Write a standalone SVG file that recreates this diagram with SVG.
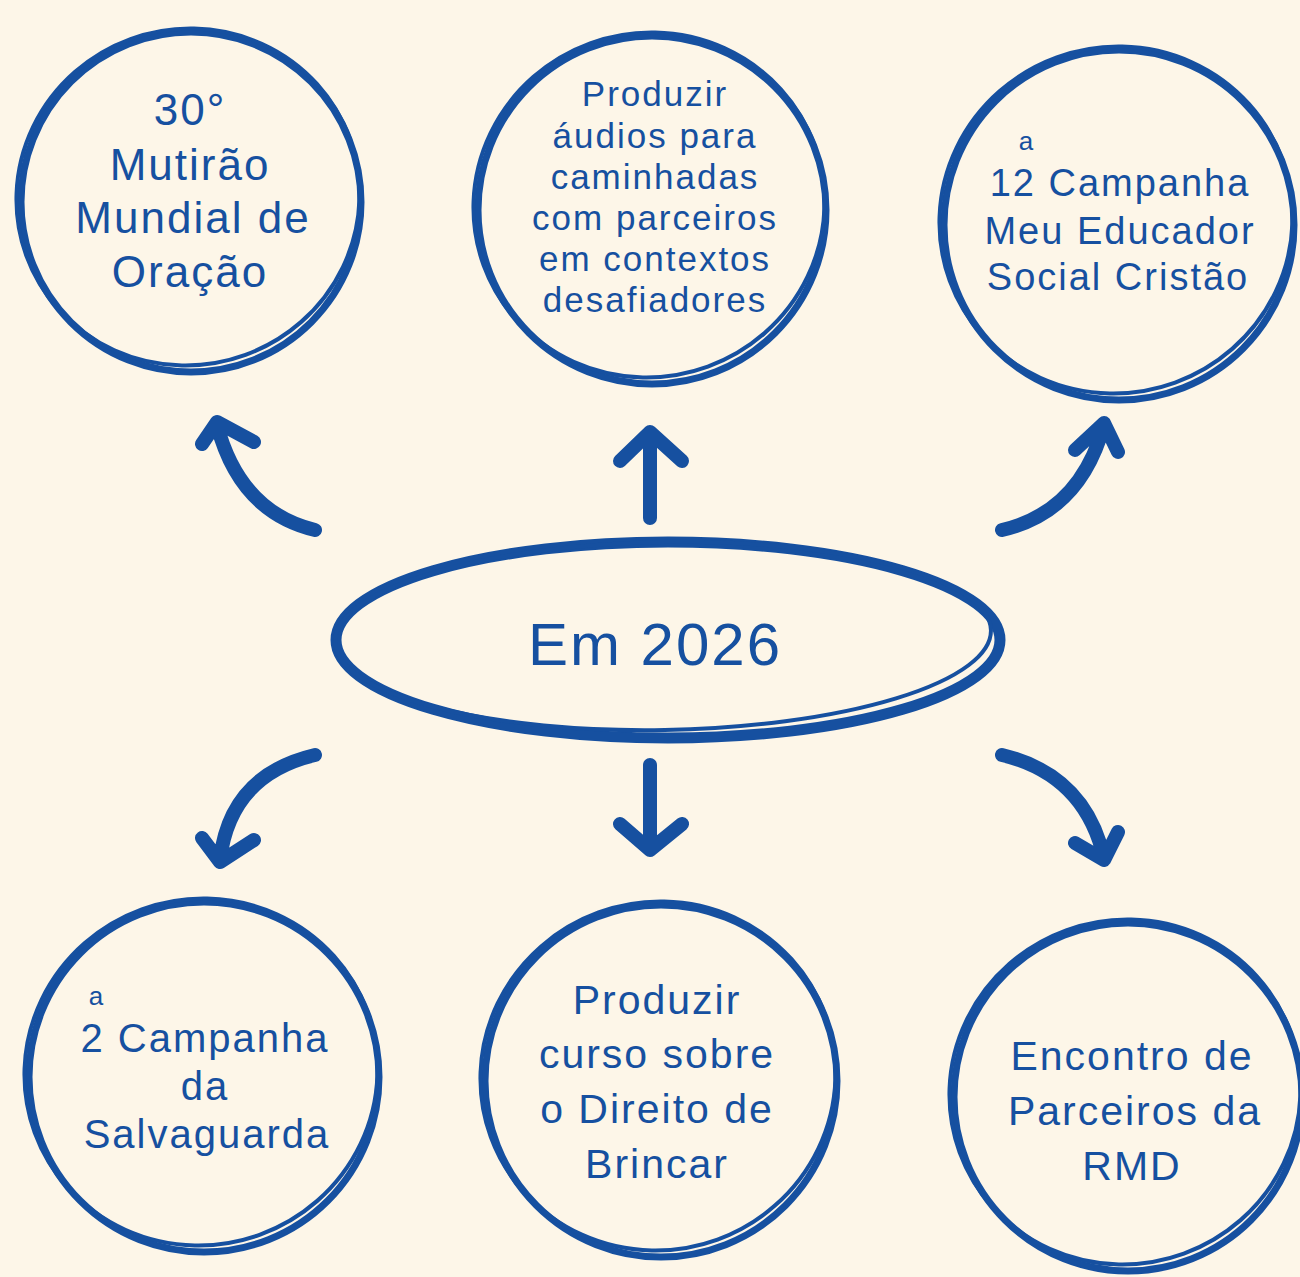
<svg xmlns="http://www.w3.org/2000/svg" width="1300" height="1277" viewBox="0 0 1300 1277">
<style>
.r1{fill:none;stroke:#1650a0;stroke-width:7}
.r2{fill:none;stroke:#1650a0;stroke-width:4}
.t{font-family:"Liberation Sans",Arial,sans-serif;fill:#1650a0;text-anchor:middle;letter-spacing:2px}
.c{fill:none;stroke:#1650a0;stroke-width:14;stroke-linecap:round;stroke-linejoin:round}
</style>
<rect width="1300" height="1277" fill="#fdf6e8"/>
<g id="center">
<ellipse cx="668" cy="640" rx="332" ry="98" fill="none" stroke="#1650a0" stroke-width="11"/>
<ellipse cx="663" cy="636" rx="328" ry="94" transform="rotate(-1 663 636)" fill="none" stroke="#1650a0" stroke-width="4"/>
<text class="t" x="655" y="665" font-size="60">Em 2026</text>
</g>
<g id="n1">
<circle class="r1" cx="191" cy="202" r="170"/>
<ellipse class="r2" cx="188" cy="197" rx="172" ry="168" transform="rotate(-20 188 197)"/>
<text class="t" font-size="44"><tspan x="190" y="125">30°</tspan><tspan x="190" y="180">Mutirão</tspan><tspan x="193" y="233">Mundial de</tspan><tspan x="190" y="287">Oração</tspan></text>
</g>
<g id="n2">
<circle class="r1" cx="652" cy="210" r="174"/>
<ellipse class="r2" cx="649" cy="205" rx="176" ry="172" transform="rotate(-20 649 205)"/>
<text class="t" font-size="35"><tspan x="655" y="106">Produzir</tspan><tspan x="655" y="148">áudios para</tspan><tspan x="655" y="189">caminhadas</tspan><tspan x="655" y="230">com parceiros</tspan><tspan x="655" y="271">em contextos</tspan><tspan x="655" y="312">desafiadores</tspan></text>
</g>
<g id="n3">
<circle class="r1" cx="1119" cy="225" r="175"/>
<ellipse class="r2" cx="1116" cy="220" rx="177" ry="173" transform="rotate(-20 1116 220)"/>
<text class="t" x="1027" y="150" font-size="26">a</text>
<text class="t" font-size="38"><tspan x="1120" y="196">12  Campanha</tspan><tspan x="1120" y="244">Meu Educador</tspan><tspan x="1118" y="290">Social Cristão</tspan></text>
</g>
<g id="n4">
<circle class="r1" cx="204" cy="1077" r="175"/>
<ellipse class="r2" cx="201" cy="1072" rx="177" ry="173" transform="rotate(-20 201 1072)"/>
<text class="t" x="97" y="1005" font-size="26">a</text>
<text class="t" font-size="40"><tspan x="205" y="1052">2  Campanha</tspan><tspan x="205" y="1100">da</tspan><tspan x="207" y="1148">Salvaguarda</tspan></text>
</g>
<g id="n5">
<circle class="r1" cx="661" cy="1081" r="176"/>
<ellipse class="r2" cx="658" cy="1076" rx="178" ry="174" transform="rotate(-20 658 1076)"/>
<text class="t" font-size="41"><tspan x="657" y="1014">Produzir</tspan><tspan x="657" y="1068">curso sobre</tspan><tspan x="657" y="1123">o Direito de</tspan><tspan x="657" y="1178">Brincar</tspan></text>
</g>
<g id="n6">
<circle class="r1" cx="1128" cy="1097" r="174"/>
<ellipse class="r2" cx="1125" cy="1092" rx="176" ry="172" transform="rotate(-20 1125 1092)"/>
<text class="t" font-size="41"><tspan x="1132" y="1070">Encontro de</tspan><tspan x="1135" y="1125">Parceiros da</tspan><tspan x="1132" y="1180">RMD</tspan></text>
</g>
<g id="connectors">
<path class="c" d="M315 530 Q240 512 217 425 M202 444 L217 422 L254 442"/>
<path class="c" d="M650 518 L650 432 M620 461 L650 432 L682 461"/>
<path class="c" d="M1002 530 Q1080 512 1104 425 M1075 450 L1104 423 L1118 452"/>
<path class="c" d="M315 755 Q230 775 220 860 M202 838 L220 862 L254 840"/>
<path class="c" d="M650 765 L650 850 M620 824 L650 850 L682 824"/>
<path class="c" d="M1002 755 Q1085 775 1104 858 M1075 843 L1104 860 L1118 832"/>
</g>
</svg>
